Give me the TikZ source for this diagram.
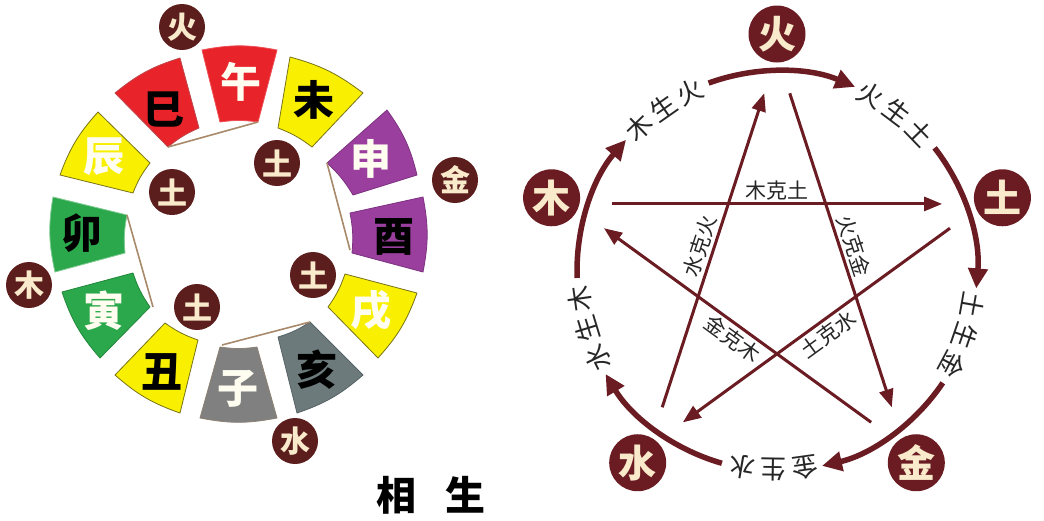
\documentclass[tikz,border=0pt]{standalone}
\usepackage{fontspec}
\newfontfamily\cjk{Noto Sans CJK SC}
\usetikzlibrary{arrows.meta,calc}
\definecolor{wred}{HTML}{E8232A}
\definecolor{wyel}{HTML}{F8F000}
\definecolor{wpur}{HTML}{9B3F9F}
\definecolor{wgrn}{HTML}{2BA84B}
\definecolor{wgry}{HTML}{808080}
\definecolor{wsla}{HTML}{6C7A7C}
\definecolor{wbrn}{HTML}{5C1D1D}
\definecolor{wcrm}{HTML}{F8EACB}
\definecolor{wmar}{HTML}{6B1C22}
\definecolor{wtan}{HTML}{A8896A}
\definecolor{wtxt}{HTML}{FFFDF0}
\newcommand\wseg[7]{\filldraw[segshape, fill=#1, draw=#2] #3 to[bend left=11] #4 -- #5 to[bend right=8] #6 -- cycle;}
\tikzset{
  segshape/.style={line width=0.8pt, line join=round},
  segtext/.style={inner sep=0pt, font=\cjk\bfseries\fontsize{41}{41}\selectfont},
  ball/.style={circle, fill=wbrn, text=wcrm, minimum size=46pt, inner sep=0pt, font=\cjk\bfseries\fontsize{30}{30}\selectfont},
  bigball/.style={circle, fill=wmar, text=wcrm, minimum size=57pt, inner sep=0pt, font=\cjk\bfseries\fontsize{38}{38}\selectfont},
  tanline/.style={draw=wtan, line width=1.6pt},
  arcline/.style={draw=wmar, line width=5.5pt, -{Triangle[length=20pt,width=19pt]}},
  starline/.style={draw=wmar, line width=3pt, -{Triangle[length=18pt,width=14pt]}},
  arclabel/.style={inner sep=0pt, text=black!85, font=\cjk\fontsize{26}{26}\selectfont},
  starlabel/.style={inner sep=4pt, text=black!85, font=\cjk\fontsize{21}{21}\selectfont},
  titletext/.style={inner sep=0pt, font=\cjk\bfseries\fontsize{40}{40}\selectfont}
}
\begin{document}
\begin{tikzpicture}[x=1pt,y=-1pt]
\useasboundingbox (0,0) rectangle (1044,520);
\fill[white] (0,0) rectangle (1044,520);

% ---------------- left wheel ----------------
\wseg{wred}{wred!60!gray}{(115,93)}{(180,58)}{(199,128)}{(168,147)}{}
\wseg{wred}{wred!80!white}{(202,50)}{(277,50)}{(258,122)}{(220,122)}{}
\wseg{wyel}{olive!80!black}{(290,57)}{(363,93)}{(312,147)}{(278,128)}{}
\wseg{wpur}{wpur!80!black}{(387,110)}{(417,175)}{(353,195)}{(327,163)}{}
\wseg{wpur}{wpur!80!black}{(423,197)}{(423,272)}{(352,253)}{(350,213)}{}
\wseg{wyel}{olive!80!black}{(417,293)}{(378,358)}{(328,307)}{(345,274)}{}
\wseg{wsla}{wsla!80!black}{(363,375)}{(297,413)}{(278,337)}{(310,322)}{}
\wseg{wgry}{wgry!80!brown}{(277,418)}{(200,418)}{(220,347)}{(257,347)}{}
\wseg{wyel}{olive!80!black}{(180,413)}{(115,375)}{(165,323)}{(198,340)}{}
\wseg{wgrn}{wgrn!80!black}{(100,358)}{(62,292)}{(133,273)}{(150,307)}{}
\wseg{wgrn}{wgrn!60!white}{(55,272)}{(53,197)}{(127,215)}{(125,253)}{}
\wseg{wyel}{olive!80!black}{(60,175)}{(98,112)}{(150,163)}{(133,193)}{}

\coordinate (l1a) at (168,147); \coordinate (l1b) at (258,122);
\coordinate (l2a) at (127,215); \coordinate (l2b) at (153,307);
\coordinate (l3a) at (327,163); \coordinate (l3b) at (350,250);
\coordinate (l4a) at (222,345); \coordinate (l4b) at (310,322);
\draw[tanline] (l1a) -- (l1b);
\draw[tanline] (l2a) -- (l2b);
\draw[tanline] (l3a) -- (l3b);
\draw[tanline] (l4a) -- (l4b);

\node[segtext, text=black] (si) at (164,110) {巳};
\node[segtext, text=wtxt]  (wu) at (241,82) {午};
\node[segtext, text=black] (wei) at (314,100) {未};
\node[segtext, text=wtxt]  (shen) at (371,159) {申};
\node[segtext, text=black] (you) at (394,237) {酉};
\node[segtext, text=wtxt]  (xu) at (371,310) {戌};
\node[segtext, text=black] (hai) at (317,370) {亥};
\node[segtext, text=wtxt]  (zi) at (238,389) {子};
\node[segtext, text=black] (chou) at (162,372) {丑};
\node[segtext, text=wtxt]  (yin) at (104,311) {寅};
\node[segtext, text=black] (mao) at (82,233) {卯};
\node[segtext, text=wtxt]  (chen) at (104,157) {辰};

\node[ball] (lhuo) at (182,27) {火};
\node[ball] (ltu1) at (172,192) {土};
\node[ball] (ltu2) at (277,163) {土};
\node[ball] (ljin) at (455,180) {金};
\node[ball] (lmu) at (29,285) {木};
\node[ball] (ltu3) at (197,307) {土};
\node[ball] (ltu4) at (313,275) {土};
\node[ball] (lshui) at (295,441) {水};

\node[titletext] (title) at (431,495) {相\hspace{29pt}生};

% ---------------- right diagram ----------------
\begin{scope}[shift={(777,271)}, y=1pt]
  \coordinate (vF) at (90:217);
  \coordinate (vE) at (18:217);
  \coordinate (vM) at (-54:217);
  \coordinate (vW) at (-126:217);
  \coordinate (vT) at (162:217);

  \node[bigball] (huo) at (90:237) {火};
  \node[bigball] (tu) at (18:237) {土};
  \node[bigball] (jin) at (-54:237) {金};
  \node[bigball] (shui) at (-126:237) {水};
  \node[bigball] (mu) at (162:237) {木};

  \foreach \k in {0,...,4} {
    \draw[arcline] ({110-72*\k}:200) arc[start angle={110-72*\k}, end angle={67-72*\k}, radius=200];
  }

  \foreach \c/\a/\b/\d in {125/木/生/火, 53/火/生/土, -19/土/生/金, -91/金/生/水, -163/水/生/木} {
    \node[arclabel, rotate={\c+9-90}] at ({\c+9}:199) {\a};
    \node[arclabel, rotate={\c-90}] at (\c:199) {\b};
    \node[arclabel, rotate={\c-9-90}] at ({\c-9}:199) {\d};
  }

  \coordinate (s1a) at ($(vT)!0.1!(vE)$); \coordinate (s1b) at ($(vT)!0.9!(vE)$);
  \coordinate (s2a) at ($(vE)!0.1!(vW)$); \coordinate (s2b) at ($(vE)!0.9!(vW)$);
  \coordinate (s3a) at ($(vW)!0.1!(vF)$); \coordinate (s3b) at ($(vW)!0.9!(vF)$);
  \coordinate (s4a) at ($(vF)!0.1!(vM)$); \coordinate (s4b) at ($(vF)!0.9!(vM)$);
  \coordinate (s5a) at ($(vM)!0.1!(vT)$); \coordinate (s5b) at ($(vM)!0.9!(vT)$);

  \draw[starline] (s1a) -- (s1b);
  \draw[starline] (s2a) -- (s2b);
  \draw[starline] (s3a) -- (s3b);
  \draw[starline] (s4a) -- (s4b);
  \draw[starline] (s5a) -- (s5b);

  \node[starlabel, anchor=south] at ($(vT)!0.5!(vE)$) {木克土};
  \node[starlabel, anchor=north, rotate=36] at ($(vE)!0.49!(vW)$) {土克水};
  \node[starlabel, anchor=south, rotate=72] at ($(vW)!0.5!(vF)$) {水克火};
  \node[starlabel, anchor=south, rotate=-72] at ($(vF)!0.5!(vM)$) {火克金};
  \node[starlabel, anchor=north, rotate=-36] at ($(vM)!0.49!(vT)$) {金克木};
\end{scope}
\end{tikzpicture}
\end{document}
